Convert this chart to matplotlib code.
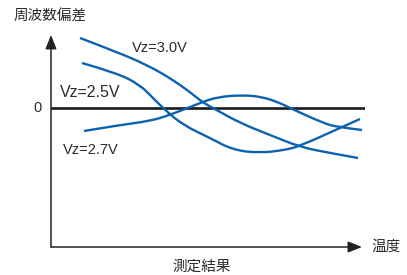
import matplotlib.pyplot as plt
from matplotlib.path import Path
from matplotlib.patches import PathPatch

# 温度 (任意単位) と 周波数偏差 (任意単位, 0 = 基準)
t_30 = [29, 66, 96, 119, 139, 151, 162, 189, 219, 249, 279, 307]
d_30 = [70, 56, 43, 30, 16, 6, 0, -15, -27, -39, -45, -50]

t_25 = [31, 66, 89, 101, 114, 132, 159, 182, 209, 234, 249, 289, 309]
d_25 = [45, 35, 23, 11, -2, -17, -30, -42, -45, -42, -38, -20, -11]

t_27 = [33, 69, 99, 119, 149, 166, 192, 212, 229, 239, 272, 286, 311]
d_27 = [-23, -17, -13, -7, 5, 11, 13, 11, 5, 0, -15, -19, -22]

labels = ['Vz=3.0V', 'Vz=2.5V', 'Vz=2.7V']


def smooth_path(xs, ys):
    # 中点を通る二次ベジェで滑らかに描く
    verts = [(xs[0], ys[0])]
    codes = [Path.MOVETO]
    for i in range(1, len(xs) - 1):
        mx = (xs[i] + xs[i + 1]) / 2
        my = (ys[i] + ys[i + 1]) / 2
        if i == len(xs) - 2:
            mx, my = xs[-1], ys[-1]
        verts += [(xs[i], ys[i]), (mx, my)]
        codes += [Path.CURVE3, Path.CURVE3]
    return Path(verts, codes)


plt.rcParams['font.family'] = ['Liberation Sans', 'Noto Sans CJK JP', 'DejaVu Sans']
W, H = 407, 275
fig = plt.figure(figsize=(W / 100, H / 100), dpi=100)
ax = fig.add_axes([51 / W, (H - 247) / H, (365 - 51) / W, (247 - 35) / H])
ax.set_xlim(0, 314)
ax.set_ylim(-139, 73)
ax.axis('off')

blue = '#0b62b0'
txt = '#2b2b2b'
for t, d in [(t_30, d_30), (t_25, d_25), (t_27, d_27)]:
    ax.add_patch(PathPatch(smooth_path(t, d), fill=False, edgecolor=blue, lw=1.7,
                           capstyle='butt', joinstyle='round', zorder=3))

# 0 line
ax.plot([0, 314], [0, 0], color='#1a1a1a', lw=1.9, zorder=2)

# axes with arrows
arr = dict(arrowstyle='-|>,head_length=0.7,head_width=0.28', color='#222222', lw=1.1,
           shrinkA=0, shrinkB=0, mutation_scale=12)
ax.annotate('', xy=(0, 1), xytext=(0, 0), xycoords='axes fraction', arrowprops=arr)
ax.annotate('', xy=(311 / 314, 0), xytext=(0, 0), xycoords='axes fraction', arrowprops=arr)

ax.text(81, 59.5, labels[0], fontsize=10.5, color=txt, va='center')
ax.text(9, 15.5, labels[1], fontsize=11.5, color=txt, va='center')
ax.text(12, -41.5, labels[2], fontsize=10.5, color=txt, va='center')

fig.text(37 / W, 1 - 108 / H, '0', fontsize=10.5, color=txt, ha='center', va='center')
fig.text(14 / W, 1 - 17 / H, '周波数偏差', fontsize=10.5, color=txt, ha='left', va='center',
         family=['Noto Sans CJK JP'])
fig.text(371 / W, 1 - 247 / H, '温度', fontsize=10.5, color=txt, ha='left', va='center',
         family=['Noto Sans CJK JP'])
fig.text(202 / W, 1 - 267 / H, '測定結果', fontsize=10.5, color=txt, ha='center', va='center',
         family=['Noto Sans CJK JP'])

fig.savefig('out.png', dpi=100)
